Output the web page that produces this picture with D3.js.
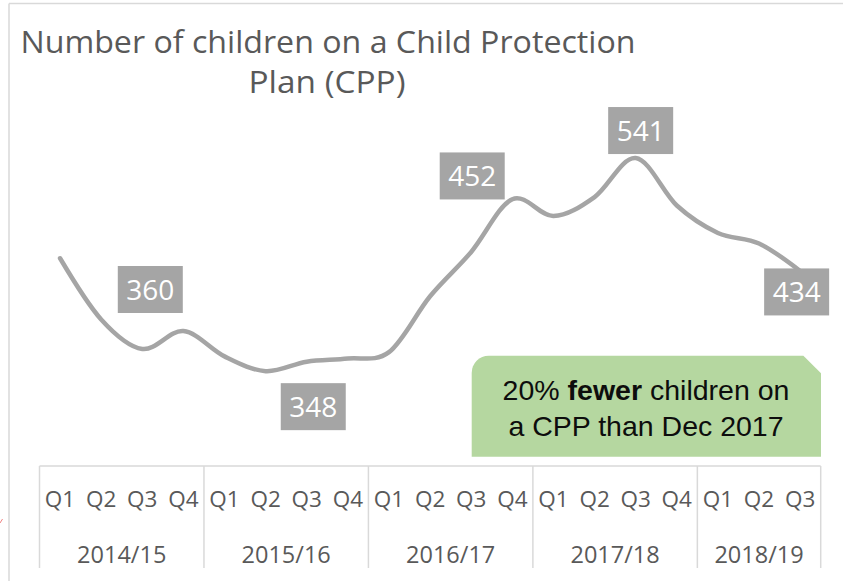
<!DOCTYPE html>
<html>
<head>
<meta charset="utf-8">
<script src="https://cdn.jsdelivr.net/npm/d3@7"></script>
<style>
  html, body { margin: 0; padding: 0; background: #fff; }
  svg { display: block; }
</style>
</head>
<body>
<svg id="chart" width="843" height="581"></svg>
<script>
// ---- data ----
const years = ["2014/15", "2015/16", "2016/17", "2017/18", "2018/19"];
const quarters = ["Q1", "Q2", "Q3", "Q4"];
const quarterCounts = [4, 4, 4, 4, 3];
const values = [446, 388, 360, 377, 353, 339, 348, 351, 357, 410, 452, 502, 486, 504, 541, 496, 470, 460, 434];
const labelledIndex = [2, 6, 10, 14, 18];          // December (Q3) of each year
const titleLines = ["Number of children on a Child Protection", "Plan (CPP)"];
const calloutLines = [["20% ", "fewer", " children on"], ["a CPP than Dec 2017"]];

// categories built from years/quarters
const categories = [];
years.forEach((y, yi) => {
  for (let q = 0; q < quarterCounts[yi]; q++) categories.push({ key: y + " " + quarters[q], year: y, q: quarters[q] });
});

const svg = d3.select("#chart");
const grey = "#595959";

// frame
svg.append("line").attr("x1", 9).attr("x2", 9).attr("y1", 3.5).attr("y2", 581)
  .attr("stroke", "#d9d9d9").attr("stroke-width", 1.5);
svg.append("line").attr("x1", 9).attr("x2", 843).attr("y1", 3.5).attr("y2", 3.5)
  .attr("stroke", "#d9d9d9").attr("stroke-width", 1.5);
svg.append("line").attr("x1", 0).attr("x2", 2.5).attr("y1", 523).attr("y2", 519)
  .attr("stroke", "#f08080").attr("stroke-width", 1);

// title
const title = svg.append("g").attr("fill", grey).attr("font-family", "'Open Sans', sans-serif").attr("font-size", 31);
title.append("text").attr("x", 328).attr("y", 52.5).attr("text-anchor", "middle")
  .attr("textLength", 615).attr("lengthAdjust", "spacingAndGlyphs").text(titleLines[0]);
title.append("text").attr("x", 327).attr("y", 93).attr("text-anchor", "middle")
  .attr("textLength", 157).attr("lengthAdjust", "spacingAndGlyphs").text(titleLines[1]);

// scales
const x = d3.scaleBand().domain(categories.map(d => d.key)).range([39.5, 820.7]).padding(0);
const y = d3.scaleLinear().domain([300, 550]).range([412.3, 148.55]);
const cx = i => x(categories[i].key) + x.bandwidth() / 2;

// axis box
const axTop = 466, axBottom = 568;
svg.append("line").attr("x1", 39.5).attr("x2", 820.7).attr("y1", axTop).attr("y2", axTop)
  .attr("stroke", "#d9d9d9").attr("stroke-width", 1.5);
let start = 0;
const bounds = [];
years.forEach((yr, yi) => {
  const first = categories[start].key;
  const last = categories[start + quarterCounts[yi] - 1].key;
  bounds.push({ year: yr, x0: x(first), x1: x(last) + x.bandwidth() });
  start += quarterCounts[yi];
});
const bx = [bounds[0].x0].concat(bounds.map(b => b.x1));
svg.selectAll("line.sep").data(bx).join("line").attr("class", "sep")
  .attr("x1", d => d).attr("x2", d => d).attr("y1", axTop).attr("y2", axBottom)
  .attr("stroke", "#d9d9d9").attr("stroke-width", 1.5);

// quarter labels via axis
const axis = d3.axisBottom(x).tickSize(0).tickFormat(k => categories.find(c => c.key === k).q);
const ag = svg.append("g").attr("transform", `translate(0,${axTop})`).call(axis);
ag.select(".domain").remove();
ag.selectAll("text").attr("font-family", "'Open Sans', sans-serif").attr("font-size", 22.5)
  .attr("fill", grey).attr("dy", null).attr("y", 41);

// year labels
svg.selectAll("text.year").data(bounds).join("text").attr("class", "year")
  .attr("x", d => (d.x0 + d.x1) / 2).attr("y", 563).attr("text-anchor", "middle")
  .attr("font-family", "'Open Sans', sans-serif").attr("font-size", 23.5).attr("fill", grey)
  .text(d => d.year);

// line
const line = d3.line().x((d, i) => cx(i)).y(d => y(d)).curve(d3.curveCardinal.tension(0));
svg.append("path").datum(values).attr("d", line).attr("fill", "none")
  .attr("stroke", "#a5a5a5").attr("stroke-width", 4.5)
  .attr("stroke-linecap", "round").attr("stroke-linejoin", "round");

// data labels (box offsets relative to point)
const labelOffsets = [[8, -59.5], [6.5, 45], [1, -76], [5, -27.5], [-3.5, 21]];
const bw = 65, bh = 47;
labelledIndex.forEach((idx, k) => {
  const px = cx(idx) + labelOffsets[k][0], py = y(values[idx]) + labelOffsets[k][1];
  const g = svg.append("g");
  g.append("rect").attr("x", px - bw / 2).attr("y", py - bh / 2).attr("width", bw).attr("height", bh)
    .attr("fill", "#a5a5a5");
  g.append("text").attr("x", px).attr("y", py + 10).attr("text-anchor", "middle")
    .attr("font-family", "'Open Sans', sans-serif").attr("font-size", 28).attr("fill", "#fff")
    .text(values[idx]);
});

// callout
const L = 471.7, R = 821, T = 355.7, B = 456.7, r = 17, s = 17.6;
const p = d3.path();
p.moveTo(L, B); p.lineTo(L, T + r); p.arcTo(L, T, L + r, T, r);
p.lineTo(R - s, T); p.lineTo(R, T + s); p.lineTo(R, B); p.closePath();
svg.append("path").attr("d", p.toString()).attr("fill", "#b5d7a0");
const ct = svg.append("g").attr("font-family", "'Liberation Sans', Arial, sans-serif").attr("font-size", 28.5)
  .attr("fill", "#0d0d0d").attr("text-anchor", "middle");
const t1 = ct.append("text").attr("x", 646).attr("y", 400);
calloutLines[0].forEach((s2, i) => t1.append("tspan").attr("font-weight", i === 1 ? "bold" : "normal").text(s2));
ct.append("text").attr("x", 646).attr("y", 436).text(calloutLines[1][0]);
</script>
</body>
</html>
